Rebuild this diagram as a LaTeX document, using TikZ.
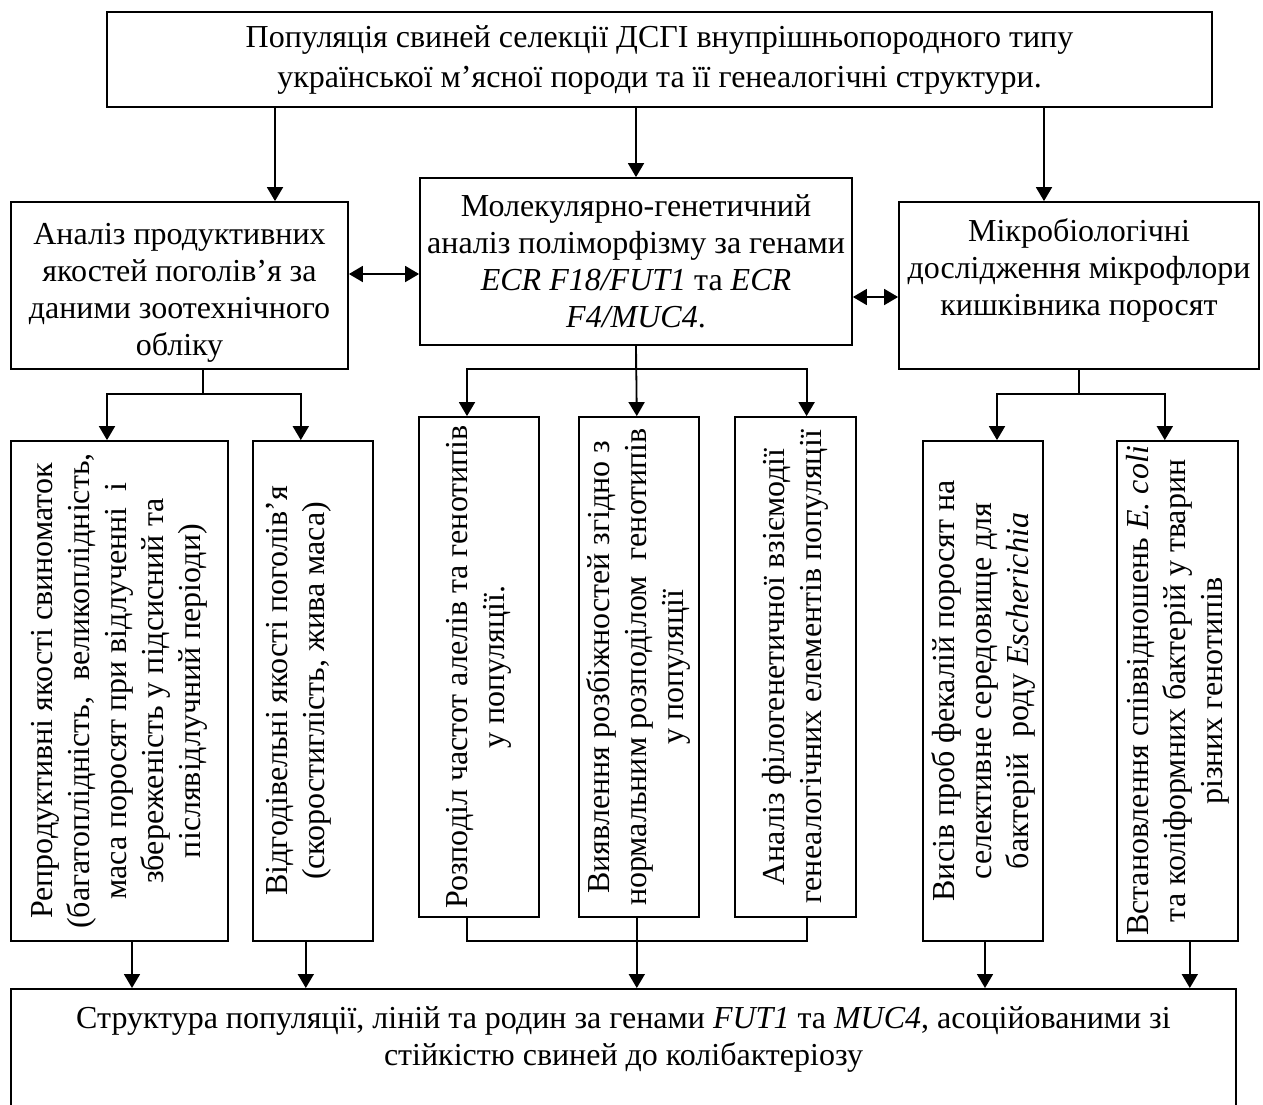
\documentclass[tikz,border=0pt]{standalone}
\usepackage{fontspec}
\setmainfont{Liberation Serif}
\usepackage{graphicx}
\usetikzlibrary{positioning,arrows.meta}
\newcommand{\uplines}[1]{\rotatebox{90}{\parbox{248pt}{\centering #1}}}

\begin{document}
\begin{tikzpicture}[x=0.5pt, y=-0.5pt, line width=0.9pt, >={Triangle[length=7pt,width=8pt]},
  font=\fontsize{16pt}{18.5pt}\selectfont,
  box/.style={draw, align=center, inner sep=0pt, minimum height=83.5pt},
  vbox/.style={draw, inner sep=0pt, minimum height=250pt, minimum width=#1}]
\useasboundingbox (0,0) rectangle (1263,1104);
% top level
\node[box, minimum width=552.5pt, minimum height=47.5pt, font=\fontsize{16pt}{20pt}\selectfont] (pop) at (659.5,59.5) {Популяція свиней селекції ДСГІ внупрішньопородного типу\\ української м’ясної породи та її генеалогічні структури.};
\node[box, minimum width=168.5pt] (an) at (179.5,285.5) {\rule{0pt}{18pt}Аналіз продуктивних\\ якостей поголів’я за\\ даними зоотехнічного\\ обліку};
\node[box, minimum width=216pt] (mol) at (636,261.5) {Молекулярно-генетичний\\ аналіз поліморфізму за генами\\ \textit{ECR F18/FUT1} та \textit{ECR}\\ \textit{F4/MUC4}.};
\node[box, minimum width=180pt] (mic) at (1079,285.5) {Мікробіологічні\\ дослідження мікрофлори\\ кишківника поросят\\ \mbox{}};
% vertical boxes
\node[vbox=108.5pt] (r1) at (119.5,691) {\uplines{Репродуктивні якості свиноматок\\ (багатоплідність,\ \ великоплідність,\\ маса поросят при відлученні\ \ і\\ збереженість у підсисний та\\ післявідлучний періоди)}};
\node[vbox=60pt, right=11.5pt of r1] (r2) {\hspace*{-14pt}\uplines{Відгодівельні якості поголів’я\\ (скоростиглість, жива маса)}};
\node[vbox=60pt] (r3) at (479,667) {\uplines{Розподіл частот алелів та генотипів\\ у популяції.}};
\node[vbox=60pt, right=19pt of r3] (r4) {\uplines{Виявлення розбіжностей згідно з\\ нормальним розподілом\ \ генотипів\\ у популяції}};
\node[vbox=60.5pt, right=17pt of r4] (r5) {\uplines{Аналіз філогенетичної взіємодії\\ генеалогічних елементів популяції}};
\node[vbox=60pt] (r6) at (983,691) {\uplines{Висів проб фекалій поросят на\\ селективне середовище для\\ бактерій\ \ роду \textit{Escherichia}}};
\node[vbox=60.5pt, right=36pt of r6] (r7) {\uplines{Встановлення співвідношень \textit{E. coli}\\ та коліформних бактерій у тварин\\ різних генотипів}};
% result
\node[draw, align=center, anchor=north, inner xsep=0pt, inner ysep=9pt, minimum width=612.5pt] (res) at (623.5,988) {Структура популяції, ліній та родин за генами \textit{FUT1} та \textit{MUC4}, асоційованими зі\\ стійкістю свиней до колібактеріозу\\[40pt] \mbox{}};
% arrows from top
\draw[->] ([xshift=47.75pt]an.north |- pop.south) -- ([xshift=47.75pt]an.north);
\draw[->] (mol.north |- pop.south) -- (mol.north);
\draw[->] ([xshift=-17.5pt]mic.north |- pop.south) -- ([xshift=-17.5pt]mic.north);
\draw[<->] ([yshift=5.75pt]an.east) -- ([yshift=5.75pt]an.east -| mol.west);
\draw[<->] ([yshift=-5.75pt]mic.west -| mol.east) -- ([yshift=-5.75pt]mic.west);
% branches
\draw[->] ([xshift=11.75pt]an.south) -- ++(0,-12pt) -| ([xshift=-6.25pt]r1.north);
\draw[->] ([xshift=11.75pt]an.south) -- ++(0,-12pt) -| ([xshift=-6pt]r2.north);
\draw[->] (mol.south) -- ++(0,-11.5pt) -| ([xshift=-6pt]r3.north);
\draw[->] (mol.south) -- ([xshift=-1pt]r4.north);
\draw[->] (mol.south) -- ++(0,-11.5pt) -| ([xshift=5.75pt]r5.north);
\draw[->] (mic.south) -- ++(0,-12pt) -| ([xshift=7pt]r6.north);
\draw[->] (mic.south) -- ++(0,-12pt) -| ([xshift=-6.25pt]r7.north);
% to result
\draw[->] ([xshift=6.25pt]r1.south) -- ([xshift=6.25pt]r1.south |- res.north);
\draw[->] ([xshift=-3.5pt]r2.south) -- ([xshift=-3.5pt]r2.south |- res.north);
\draw ([xshift=-6pt]r3.south) -- ++(0,-11.5pt) -| ([xshift=5.75pt]r5.south);
\draw[->] ([xshift=-1pt]r4.south) -- ([xshift=-1pt]r4.south |- res.north);
\draw[->] ([xshift=1pt]r6.south) -- ([xshift=1pt]r6.south |- res.north);
\draw[->] ([xshift=6.25pt]r7.south) -- ([xshift=6.25pt]r7.south |- res.north);
\end{tikzpicture}
\end{document}
